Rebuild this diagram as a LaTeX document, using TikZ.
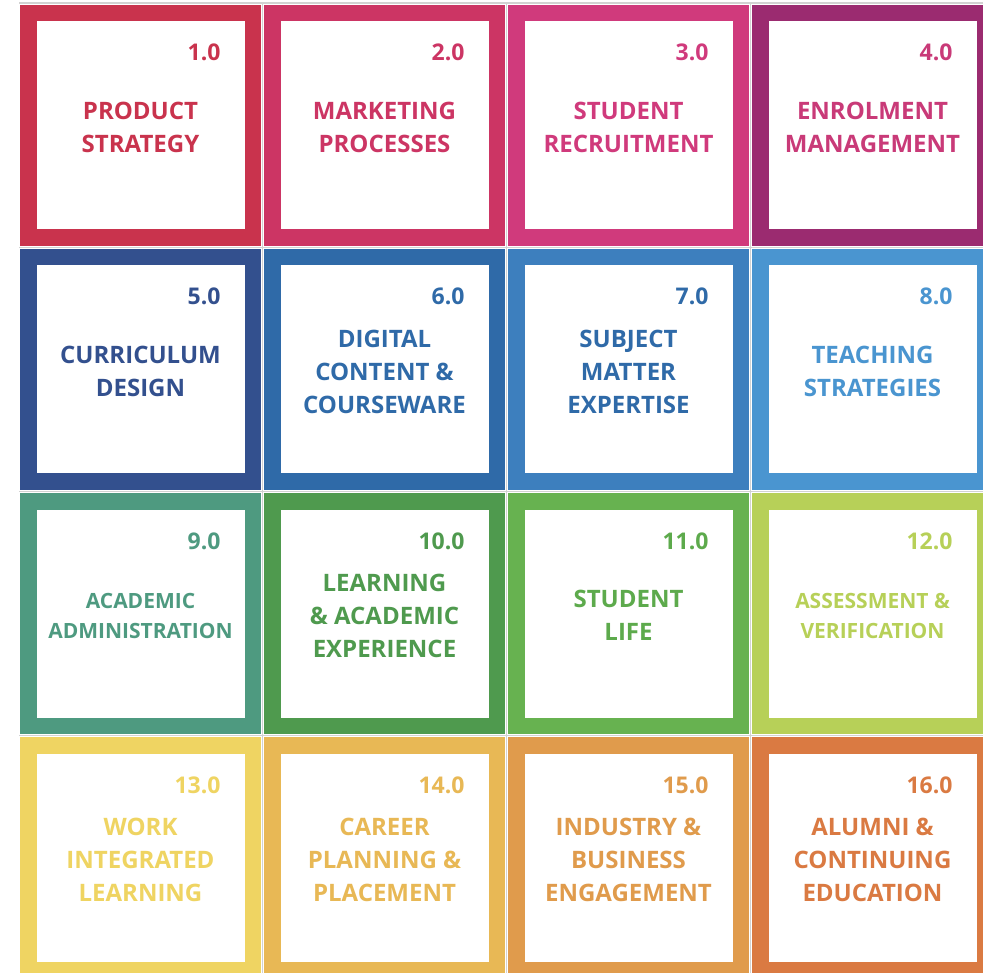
\documentclass[tikz,border=0pt]{standalone}
\usepackage{fontspec}
\setmainfont{Open Sans}
\usetikzlibrary{positioning}
\definecolor{crimson}{HTML}{C9334D}
\definecolor{rose}{HTML}{CC3564}
\definecolor{pink}{HTML}{D03A7C}
\definecolor{plum}{HTML}{9B2B70}
\definecolor{plumtext}{HTML}{C93A78}
\definecolor{navy}{HTML}{33508E}
\definecolor{cobalt}{HTML}{2F6AA8}
\definecolor{azure}{HTML}{3D7FBE}
\definecolor{sky}{HTML}{4A95D0}
\definecolor{teal}{HTML}{4E9A80}
\definecolor{forest}{HTML}{4F9A4E}
\definecolor{leaf}{HTML}{67B250}
\definecolor{leaftext}{HTML}{5DAA4C}
\definecolor{lime}{HTML}{B7D058}
\definecolor{mustard}{HTML}{EFD462}
\definecolor{amber}{HTML}{E8B855}
\definecolor{apricot}{HTML}{E09B4C}
\definecolor{tangerine}{HTML}{DA7A42}

\begin{document}
\begin{tikzpicture}[x=1pt,y=-1pt,
  tile/.style={draw=#1,line width=16.5pt,fill=white,minimum size=224.5pt,inner sep=0pt},
  lab/.style={text=#1,font=\bfseries\fontsize{24}{33}\selectfont,align=center,yshift=-2pt},
  small/.style={font=\bfseries\fontsize{21}{30}\selectfont},
  num/.style={text=#1,font=\bfseries\fontsize{23}{28}\selectfont},
  sep/.style={draw=gray!35,line width=1.2pt}]
\useasboundingbox (0,0) rectangle (983,973);\clip (0,0) rectangle (983,973);
% table rules between the cells
\draw[sep] (19,3)--(983,3);\draw[sep] (19,247.5)--(983,247.5);\draw[sep] (19,491.5)--(983,491.5);\draw[sep] (19,735.5)--(983,735.5);
\draw[sep] (262.5,3)--(262.5,973);\draw[sep] (506.5,3)--(506.5,973);\draw[sep] (750.5,3)--(750.5,973);
% row 1
\node[tile=crimson] (t1) at (140.5,125.5){};\node[tile=rose] (t2) at (384.5,125.5){};
\node[tile=pink] (t3) at (628.5,125.5){};\node[tile=plum] (t4) at (872.5,125.5){};
% row 2
\node[tile=navy] (t5) at (140.5,369.5){};\node[tile=cobalt] (t6) at (384.5,369.5){};
\node[tile=azure] (t7) at (628.5,369.5){};\node[tile=sky] (t8) at (872.5,369.5){};
% row 3
\node[tile=teal] (t9) at (140.5,613.5){};\node[tile=forest] (t10) at (384.5,613.5){};
\node[tile=leaf] (t11) at (628.5,613.5){};\node[tile=lime] (t12) at (872.5,613.5){};
% row 4
\node[tile=mustard] (t13) at (140.5,857.5){};\node[tile=amber] (t14) at (384.5,857.5){};
\node[tile=apricot] (t15) at (628.5,857.5){};\node[tile=tangerine] (t16) at (872.5,857.5){};
% titles
\node[lab=crimson] at (t1){PRODUCT\\STRATEGY};\node[lab=rose] at (t2){MARKETING\\PROCESSES};
\node[lab=pink] at (t3){STUDENT\\RECRUITMENT};\node[lab=plumtext] at (t4){ENROLMENT\\MANAGEMENT};
\node[lab=navy] at (t5){CURRICULUM\\DESIGN};\node[lab=cobalt] at (t6){DIGITAL\\CONTENT \&\\COURSEWARE};
\node[lab=cobalt] at (t7){SUBJECT\\MATTER\\EXPERTISE};\node[lab=sky] at (t8){TEACHING\\STRATEGIES};
\node[lab=teal,small] at (t9){ACADEMIC\\ADMINISTRATION};\node[lab=forest] at (t10){LEARNING\\\& ACADEMIC\\EXPERIENCE};
\node[lab=leaftext] at (t11){STUDENT\\LIFE};\node[lab=lime,small] at (t12){ASSESSMENT \&\\VERIFICATION};
\node[lab=mustard] at (t13){WORK\\INTEGRATED\\LEARNING};\node[lab=amber] at (t14){CAREER\\PLANNING \&\\PLACEMENT};
\node[lab=apricot] at (t15){INDUSTRY \&\\BUSINESS\\ENGAGEMENT};\node[lab=tangerine] at (t16){ALUMNI \&\\CONTINUING\\EDUCATION};
% numbers
\node[num=crimson,below left=56pt and 37pt of t1.north east,anchor=base east]{1.0};
\node[num=rose,below left=56pt and 37pt of t2.north east,anchor=base east]{2.0};
\node[num=pink,below left=56pt and 37pt of t3.north east,anchor=base east]{3.0};
\node[num=plumtext,below left=56pt and 37pt of t4.north east,anchor=base east]{4.0};
\node[num=navy,below left=56pt and 37pt of t5.north east,anchor=base east]{5.0};
\node[num=cobalt,below left=56pt and 37pt of t6.north east,anchor=base east]{6.0};
\node[num=cobalt,below left=56pt and 37pt of t7.north east,anchor=base east]{7.0};
\node[num=sky,below left=56pt and 37pt of t8.north east,anchor=base east]{8.0};
\node[num=teal,below left=56pt and 37pt of t9.north east,anchor=base east]{9.0};
\node[num=forest,below left=56pt and 37pt of t10.north east,anchor=base east]{10.0};
\node[num=leaftext,below left=56pt and 37pt of t11.north east,anchor=base east]{11.0};
\node[num=lime,below left=56pt and 37pt of t12.north east,anchor=base east]{12.0};
\node[num=mustard,below left=56pt and 37pt of t13.north east,anchor=base east]{13.0};
\node[num=amber,below left=56pt and 37pt of t14.north east,anchor=base east]{14.0};
\node[num=apricot,below left=56pt and 37pt of t15.north east,anchor=base east]{15.0};
\node[num=tangerine,below left=56pt and 37pt of t16.north east,anchor=base east]{16.0};
\end{tikzpicture}
\end{document}
